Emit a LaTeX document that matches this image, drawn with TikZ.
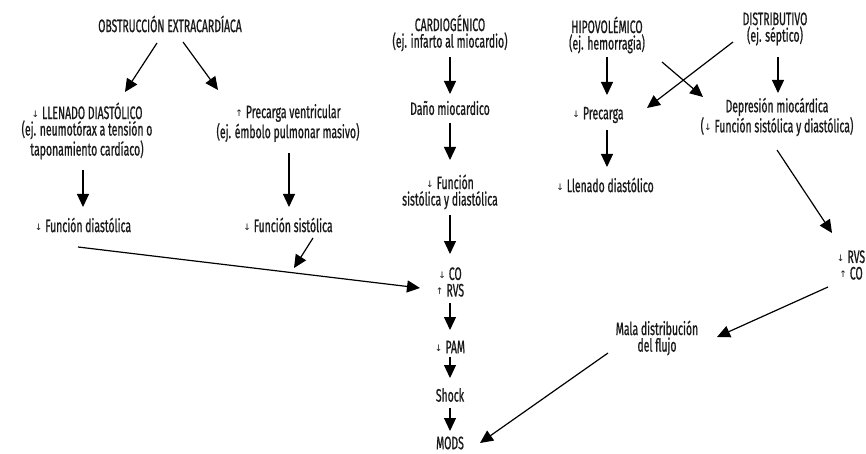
\documentclass[tikz,border=0pt]{standalone}
\usepackage{fontspec}
\setmainfont[FakeStretch=0.58,FakeBold=0.8]{Fira Sans}
\newfontfamily\arrowfont{DejaVu Sans}
\usetikzlibrary{arrows.meta,calc}
\newcommand{\dn}{{\arrowfont\fontsize{9}{9}\selectfont\raisebox{1.5pt}{↓}}\,}
\newcommand{\upa}{{\arrowfont\fontsize{9}{9}\selectfont\raisebox{1.5pt}{↑}}\,}
\begin{document}
\begin{tikzpicture}[x=1pt,y=-1pt,
  lbl/.style={inner sep=0pt,align=center,text=black!90,font=\fontsize{18}{16.5}\selectfont},
  arr/.style={line width=1.2pt,-{Triangle[length=13pt,width=12pt]}}]
\useasboundingbox (0,0) rectangle (866,454);
% left branch
\node[lbl] (obs) at (170,24) {OBSTRUCCIÓN EXTRACARDÍACA};
\node[lbl] (llen) at (87,131) {\dn LLENADO DIASTÓLICO\\(ej. neumotórax a tensión o\\taponamiento cardíaco)};
\node[lbl] (prec) at (288,123) {\upa Precarga ventricular\\(ej. émbolo pulmonar masivo)};
\node[lbl] (fdia) at (83,225) {\dn Función diastólica};
\node[lbl] (fsis) at (288,225) {\dn Función sistólica};
% center column
\node[lbl] (card) at (450,33) {CARDIOGÉNICO\\(ej. infarto al miocardio)};
\node[lbl] (dano) at (450,108) {Daño miocardico};
\node[lbl] (fsd) at (450,192) {\dn Función\\sistólica y diastólica};
\node[lbl] (corvs) at (450,282) {\dn CO\\\upa RVS};
\node[lbl] (pam) at (450,347) {\dn PAM};
\node[lbl] (shock) at (450,395) {Shock};
\node[lbl] (mods) at (450,443) {MODS};
% right branch
\node[lbl] (hipo) at (607,35) {HIPOVOLÉMICO\\(ej. hemorragia)};
\node[lbl] (precarga) at (598,115) {\dn Precarga};
\node[lbl] (llen2) at (605,185) {\dn Llenado diastólico};
\node[lbl] (dist) at (775,29) {DISTRIBUTIVO\\(ej. séptico)};
\node[lbl] (dep) at (777,117) {Depresión miocárdica\\(\dn Función sistólica y diastólica)};
\node[lbl] (rvsco) at (851,265) {\dn RVS\\\upa CO};
\node[lbl] (mala) at (657,338) {Mala distribución\\del flujo};
% connectors
\draw[arr] ($(obs)+(-13,19)$) -- ($(llen)+(38,-39)$);
\draw[arr] ($(obs)+(13,18)$) -- ($(prec)+(-70,-33)$);
\draw[arr] ($(llen)+(-4,39)$) -- ($(fdia)+(0,-18)$);
\draw[arr] ($(prec)+(1,30)$) -- ($(fsis)+(1,-18)$);
\draw[arr] ($(fsis)+(25,13)$) -- ($(corvs)+(-156,-14)$);
\draw[arr] ($(fdia)+(-5,22)$) -- ($(corvs)+(-30,6)$);
\draw[arr] ($(card)+(0,24)$) -- ($(dano)+(0,-14)$);
\draw[arr] ($(dano)+(0,15)$) -- ($(fsd)+(0,-32)$);
\draw[arr] ($(fsd)+(0,23)$) -- ($(corvs)+(0,-28)$);
\draw[arr] ($(corvs)+(0,21)$) -- ($(pam)+(0,-17)$);
\draw[arr] ($(pam)+(0,10)$) -- ($(shock)+(0,-17)$);
\draw[arr] ($(shock)+(0,13)$) -- ($(mods)+(0,-12)$);
\draw[arr] ($(hipo)+(0,22)$) -- ($(precarga)+(9,-20)$);
\draw[arr] ($(precarga)+(9,15)$) -- ($(llen2)+(2,-18)$);
\draw[arr] ($(dist)+(3,28)$) -- ($(dep)+(1,-24)$);
\draw[arr] ($(dist)+(-42,13)$) -- ($(precarga)+(49,-7)$);
\draw[arr] ($(hipo)+(55,27)$) -- ($(dep)+(-74,-20)$);
\draw[arr] ($(dep)+(0,33)$) -- ($(rvsco)+(-19,-32)$);
\draw[arr] ($(rvsco)+(-23,22)$) -- ($(mala)+(60,-1)$);
\draw[arr] ($(mala)+(-49,15)$) -- ($(mods)+(30,0)$);
\end{tikzpicture}
\end{document}
